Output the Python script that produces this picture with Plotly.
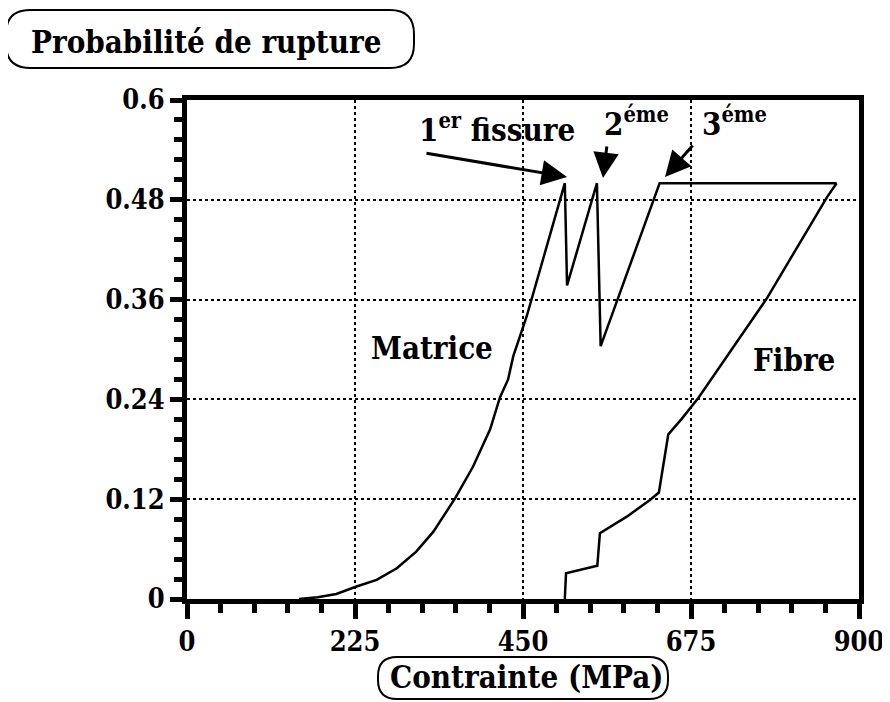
import plotly.graph_objects as go

# ---- data ----
matrice_x = [150, 175, 200, 227, 254, 281, 307, 330, 359, 383, 406, 419, 430, 437, 455, 506, 509, 549, 554, 633, 870]
matrice_y = [0.0, 0.002, 0.006, 0.015, 0.023, 0.037, 0.057, 0.081, 0.121, 0.159, 0.204, 0.242, 0.264, 0.292, 0.340, 0.500, 0.377, 0.500, 0.304, 0.500, 0.500]

fibre_x = [506, 507.6, 549.5, 553, 589, 620, 632, 644.6, 662, 685, 777, 857, 870]
fibre_y = [0.0, 0.031, 0.040, 0.079, 0.099, 0.119, 0.128, 0.198, 0.216, 0.242, 0.362, 0.483, 0.500]

x_ticks = [0, 225, 450, 675, 900]
x_tick_labels = ["0", "225", "450", "675", "900"]
y_ticks = [0, 0.12, 0.24, 0.36, 0.48, 0.6]
y_tick_labels = ["0", "0.12", "0.24", "0.36", "0.48", "0.6"]

FONT = "DejaVu Serif Condensed, DejaVu Serif, serif"

# page body has an 8px margin: figure origin sits at (8, 8) of the window
OFF = 8
W, H = 890 - OFF, 702 - OFF
L, T = 187 - OFF, 100 - OFF
R = W - (859 - OFF)
B = H - (599 - OFF)
PW, PH = W - L - R, H - T - B


def px(xp):
    # reference-window pixel x -> paper fraction
    return (xp - OFF - L) / PW


def py(yp):
    # reference-window pixel y -> paper fraction
    return (H - B - (yp - OFF)) / PH


def rounded_box(x0, y0, x1, y1, r):
    pts = [
        ("M", [(x0 + r, y0)]),
        ("L", [(x1 - r, y0)]),
        ("Q", [(x1, y0), (x1, y0 + r)]),
        ("L", [(x1, y1 - r)]),
        ("Q", [(x1, y1), (x1 - r, y1)]),
        ("L", [(x0 + r, y1)]),
        ("Q", [(x0, y1), (x0, y1 - r)]),
        ("L", [(x0, y0 + r)]),
        ("Q", [(x0, y0), (x0 + r, y0)]),
    ]
    s = ""
    for cmd, ps in pts:
        s += cmd + " " + " ".join(f"{px(a):.5f},{py(b):.5f}" for a, b in ps) + " "
    return s + "Z"


fig = go.Figure()
fig.add_trace(go.Scatter(x=matrice_x, y=matrice_y, mode="lines",
                         line=dict(color="black", width=2.5), name="Matrice",
                         cliponaxis=False))
fig.add_trace(go.Scatter(x=fibre_x, y=fibre_y, mode="lines",
                         line=dict(color="black", width=2.5), name="Fibre",
                         cliponaxis=False))

axis_common = dict(
    showline=True, linewidth=5, linecolor="black", mirror=True,
    ticks="outside", tickwidth=5, tickcolor="black",
    showgrid=True, gridcolor="black", griddash="dot", gridwidth=1.5,
    zeroline=False,
    tickfont=dict(family=FONT, size=27, color="black", weight="bold"),
)

fig.update_xaxes(range=[0, 900], tickvals=x_ticks, ticktext=x_tick_labels,
                 ticklen=15,
                 minor=dict(dtick=45, ticklen=9, tickwidth=5, tickcolor="black",
                            ticks="outside", showgrid=False),
                 **axis_common)
fig.update_yaxes(range=[0, 0.6], tickvals=y_ticks, ticktext=y_tick_labels,
                 ticklen=12,
                 minor=dict(dtick=0.024, ticklen=8, tickwidth=5, tickcolor="black",
                            ticks="outside", showgrid=False),
                 **axis_common)

anno_font = dict(family=FONT, size=31, color="black", weight="bold")

annotations = [
    dict(text="Probabilité de rupture", x=px(206), y=py(42), xref="paper", yref="paper",
         showarrow=False, font=anno_font, xanchor="center", yanchor="middle"),
    dict(text="Contrainte (MPa)", x=px(526), y=py(677), xref="paper", yref="paper",
         showarrow=False, font=anno_font, xanchor="center", yanchor="middle"),
    dict(text="Matrice", x=px(432), y=py(348), xref="paper", yref="paper",
         showarrow=False, font=anno_font, xanchor="center", yanchor="middle"),
    dict(text="Fibre", x=px(794), y=py(360), xref="paper", yref="paper",
         showarrow=False, font=anno_font, xanchor="center", yanchor="middle"),
    dict(text="1<sup>er</sup> fissure", x=px(497), y=py(128), xref="paper", yref="paper",
         showarrow=False, font=anno_font, xanchor="center", yanchor="middle"),
    dict(text="2<sup>éme</sup>", x=px(636), y=py(122), xref="paper", yref="paper",
         showarrow=False, font=anno_font, xanchor="center", yanchor="middle"),
    dict(text="3<sup>éme</sup>", x=px(734), y=py(122), xref="paper", yref="paper",
         showarrow=False, font=anno_font, xanchor="center", yanchor="middle"),
]

# arrows: (tip_px, tip_py, tail_px, tail_py) in reference-window pixels
arrows = [(567, 177, 425, 153), (603, 178, 607, 145), (665, 177, 694, 144)]
for tx, ty, sx, sy in arrows:
    annotations.append(dict(
        x=px(tx), y=py(ty), xref="paper", yref="paper",
        ax=sx - tx, ay=sy - ty, axref="pixel", ayref="pixel",
        text="", showarrow=True, arrowhead=2, arrowsize=1.7, arrowwidth=3,
        arrowcolor="black", standoff=0))

shapes = [
    dict(type="path", path=rounded_box(6, 10, 414, 68, 24), xref="paper", yref="paper",
         line=dict(color="black", width=2), fillcolor="rgba(0,0,0,0)"),
    dict(type="path", path=rounded_box(378, 657, 668, 699, 19), xref="paper", yref="paper",
         line=dict(color="black", width=2), fillcolor="rgba(0,0,0,0)"),
]

fig.update_layout(
    width=W, height=H,
    margin=dict(l=L, r=R, t=T, b=B, autoexpand=False),
    paper_bgcolor="white", plot_bgcolor="white",
    showlegend=False,
    annotations=annotations, shapes=shapes,
)

fig.write_html("out.html")
